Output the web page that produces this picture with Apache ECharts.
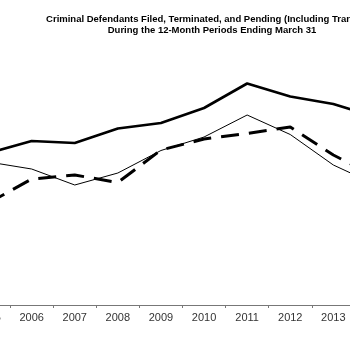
<!DOCTYPE html>
<html>
<head>
<meta charset="utf-8">
<script src="https://cdn.jsdelivr.net/npm/echarts@6/dist/echarts.min.js"></script>
<style>
html,body{margin:0;padding:0;background:#fff;}
#c{width:350px;height:350px;}
</style>
</head>
<body>
<div id="c"></div>
<script>
const years = ['2005','2006','2007','2008','2009','2010','2011','2012','2013','2014'];
const pending = [90400, 92800, 92400, 95300, 96400, 99400, 104300, 101700, 100200, 97600];
const filed = [88600, 87200, 84000, 86400, 90900, 93600, 98000, 94100, 88000, 84000];
const terminated = [80400, 85200, 86000, 84500, 91000, 93200, 94300, 95600, 90000, 85600];
const titleText = 'Criminal Defendants Filed, Terminated, and Pending (Including Transfers)\nDuring the 12-Month Periods Ending March 31';

const chart = echarts.init(document.getElementById('c'), null, {renderer: 'canvas'});
chart.setOption({
  animation: false,
  backgroundColor: '#ffffff',
  title: {
    text: titleText,
    left: 207,
    top: 9,
    textAlign: 'center',
    textStyle: {
      fontFamily: 'Liberation Sans, Arial, sans-serif',
      fontSize: 9.5,
      fontWeight: 'bold',
      color: '#000',
      lineHeight: 11
    }
  },
  legend: {show: false},
  grid: {
    left: -33,
    right: -48,
    top: 55,
    bottom: 45,
    containLabel: false,
    outerBoundsMode: 'none'
  },
  xAxis: {
    type: 'category',
    data: years,
    boundaryGap: true,
    axisLine: {lineStyle: {color: '#777', width: 1}},
    axisTick: {show: true, length: 3, lineStyle: {color: '#777'}},
    axisLabel: {
      margin: 7,
      fontSize: 11,
      color: '#333',
      fontFamily: 'Liberation Sans, Arial, sans-serif'
    },
    splitLine: {show: false}
  },
  yAxis: {
    type: 'value',
    min: 60000,
    max: 110000,
    axisLine: {show: false},
    axisTick: {show: false},
    axisLabel: {show: false},
    splitLine: {show: false}
  },
  series: [
    {
      name: 'Pending',
      type: 'line',
      data: pending,
      symbol: 'none',
      lineStyle: {color: '#000', width: 2.6},
      z: 3
    },
    {
      name: 'Filed',
      type: 'line',
      data: filed,
      symbol: 'none',
      lineStyle: {color: '#000', width: 1}
    },
    {
      name: 'Terminated',
      type: 'line',
      data: terminated,
      symbol: 'none',
      lineStyle: {color: '#000', width: 3, type: [18, 10]}
    }
  ]
});
</script>
</body>
</html>
